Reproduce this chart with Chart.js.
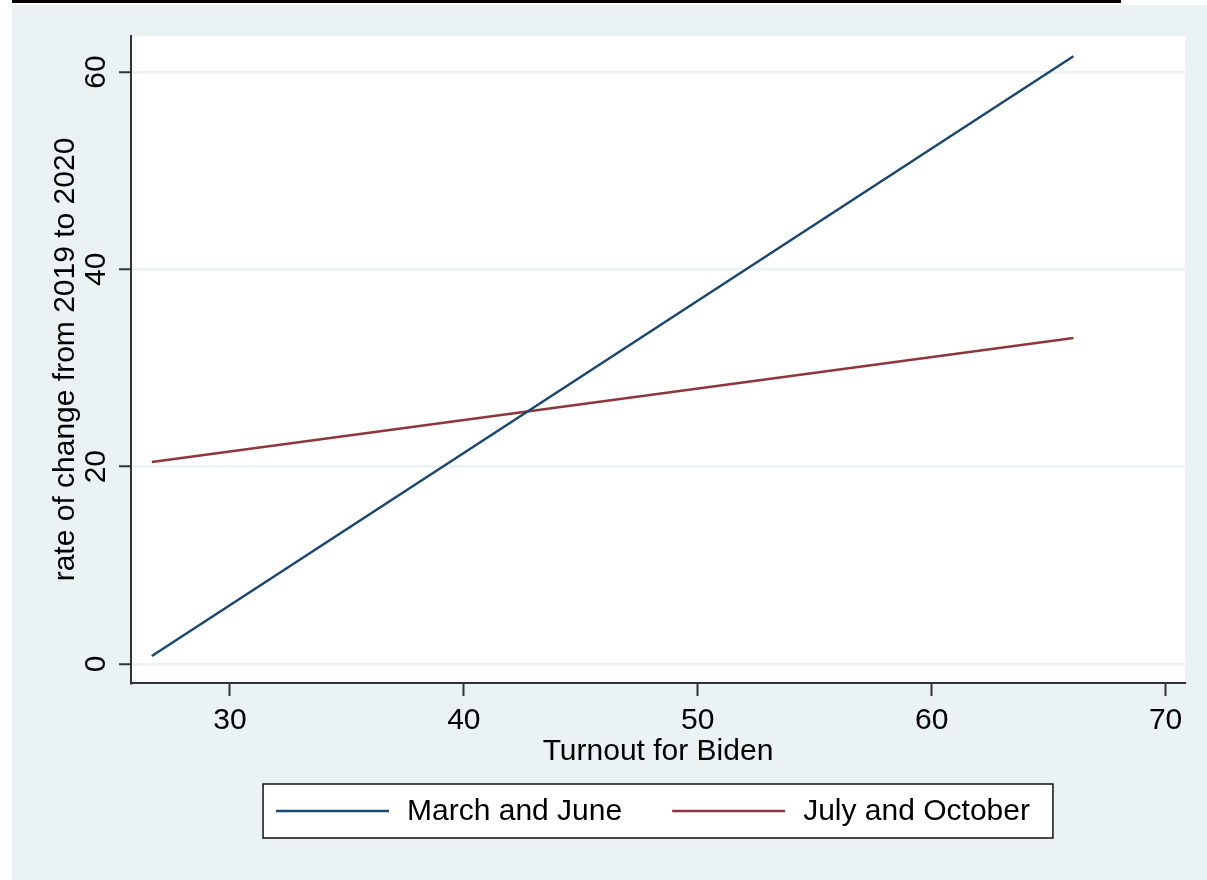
<!DOCTYPE html>
<html>
<head>
<meta charset="utf-8">
<script src="https://cdn.jsdelivr.net/npm/chart.js@4.4.1/dist/chart.umd.min.js"></script>
<style>
  html, body { margin: 0; padding: 0; background: #ffffff; }
  #wrap { position: absolute; left: 0; top: 0; width: 1207px; height: 880px; }
</style>
</head>
<body>
<div id="wrap"><canvas id="c" width="1207" height="880"></canvas></div>
<script>
// Fitted lines: rate of change vs. turnout for Biden
const turnout = [26.66, 66.06];
const marchJune = [0.81, 61.6];
const julyOctober = [20.47, 33.04];
const seriesNames = ['March and June', 'July and October'];
const xTicks = [30, 40, 50, 60, 70];
const yTicks = [0, 20, 40, 60];

const FONT = '"Liberation Sans", Arial, sans-serif';
const FONT_SIZE = 30;
const REGION_BG = '#eaf2f3';
const AXIS_COLOR = '#333333';

// Graph region, plot background and top rule
const backgroundPlugin = {
  id: 'regionBackground',
  beforeDraw(chart) {
    const { ctx, chartArea } = chart;
    ctx.save();
    ctx.fillStyle = '#ffffff';
    ctx.fillRect(0, 0, chart.width, chart.height);
    ctx.fillStyle = REGION_BG;
    ctx.fillRect(12, 5, chart.width - 12, chart.height - 5);
    ctx.fillStyle = '#ffffff';
    ctx.fillRect(chartArea.left, chartArea.top, chartArea.right - chartArea.left, chartArea.bottom - chartArea.top);
    ctx.fillStyle = '#000000';
    ctx.fillRect(12, 0, 1109, 3);
    ctx.restore();
  }
};

// Boxed legend below the axis title
const boxedLegendPlugin = {
  id: 'boxedLegend',
  afterDraw(chart) {
    const { ctx, chartArea } = chart;
    const sets = chart.data.datasets;
    ctx.save();
    ctx.font = FONT_SIZE + 'px ' + FONT;
    const lineLen = 113, gapText = 18, gapItem = 50, padL = 13, padR = 23;
    const widths = sets.map(d => ctx.measureText(d.label).width);
    let total = padL + padR + gapItem * (sets.length - 1);
    widths.forEach(w => { total += lineLen + gapText + w; });
    const cx = (chartArea.left + chartArea.right) / 2;
    const left = cx - total / 2;
    const top = 784, h = 54;
    ctx.fillStyle = '#ffffff';
    ctx.fillRect(left, top, total, h);
    ctx.strokeStyle = '#111111';
    ctx.lineWidth = 1.5;
    ctx.strokeRect(left, top, total, h);
    let x = left + padL;
    const midY = top + h / 2;
    sets.forEach((d, i) => {
      ctx.strokeStyle = d.borderColor;
      ctx.lineWidth = 2.5;
      ctx.beginPath();
      ctx.moveTo(x, midY);
      ctx.lineTo(x + lineLen, midY);
      ctx.stroke();
      x += lineLen + gapText;
      ctx.fillStyle = '#000000';
      ctx.textBaseline = 'middle';
      ctx.textAlign = 'left';
      ctx.fillText(d.label, x, midY + 1);
      x += widths[i] + gapItem;
    });
    ctx.restore();
  }
};

const toPoints = ys => turnout.map((x, i) => ({ x: x, y: ys[i] }));

new Chart(document.getElementById('c'), {
  type: 'scatter',
  data: {
    datasets: [
      { label: seriesNames[0], data: toPoints(marchJune), borderColor: '#1a476f', backgroundColor: '#1a476f' },
      { label: seriesNames[1], data: toPoints(julyOctober), borderColor: '#90353b', backgroundColor: '#90353b' }
    ]
  },
  options: {
    responsive: false,
    animation: false,
    showLine: true,
    elements: {
      point: { radius: 0, hoverRadius: 0 },
      line: { borderWidth: 2.5, tension: 0 }
    },
    layout: { padding: { left: 48, top: 36, right: 22, bottom: 110 } },
    plugins: { legend: { display: false }, tooltip: { enabled: false } },
    scales: {
      x: {
        type: 'linear',
        min: 25.77,
        max: 70.83,
        afterBuildTicks: s => { s.ticks = xTicks.map(v => ({ value: v })); },
        afterFit: s => { s.height = 87; },
        grid: { drawOnChartArea: false, drawTicks: true, tickLength: 13, tickColor: AXIS_COLOR, tickWidth: 2 },
        border: { display: true, color: AXIS_COLOR, width: 2 },
        ticks: { color: '#000000', padding: 7, maxRotation: 0, font: { family: FONT, size: FONT_SIZE } },
        title: { display: true, text: 'Turnout for Biden', color: '#000000', padding: 0, font: { family: FONT, size: FONT_SIZE } }
      },
      y: {
        type: 'linear',
        min: -1.93,
        max: 63.65,
        afterBuildTicks: s => { s.ticks = yTicks.map(v => ({ value: v })); },
        afterFit: s => { s.width = 83; },
        grid: { drawOnChartArea: true, color: REGION_BG, lineWidth: 2.5, drawTicks: true, tickLength: 12, tickColor: AXIS_COLOR, tickWidth: 2 },
        border: { display: true, color: AXIS_COLOR, width: 2 },
        ticks: { color: '#000000', padding: 6, minRotation: 90, maxRotation: 90, crossAlign: 'center', font: { family: FONT, size: FONT_SIZE } },
        title: { display: true, text: 'rate of change from 2019 to 2020', color: '#000000', padding: 0, font: { family: FONT, size: FONT_SIZE } }
      }
    }
  },
  plugins: [backgroundPlugin, boxedLegendPlugin]
});
</script>
</body>
</html>
